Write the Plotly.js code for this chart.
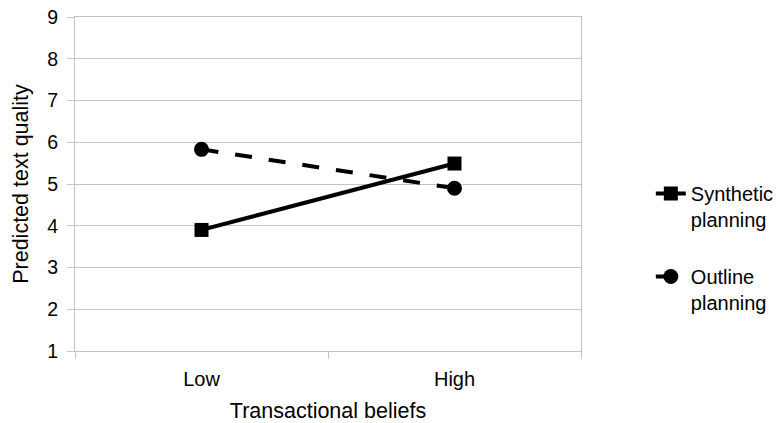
<!DOCTYPE html>
<html>
<head>
<meta charset="utf-8">
<script src="https://cdn.plot.ly/plotly-3.0.1.min.js"></script>
<style>html,body{margin:0;padding:0;background:#fff;}#chart{width:779px;height:423px;}</style>
</head>
<body>
<div id="chart"></div>
<script>
const categories = ['Low', 'High'];
const synthetic = [3.90, 5.49];
const outline = [5.83, 4.90];
const yTicks = [1, 2, 3, 4, 5, 6, 7, 8, 9];
const seriesNames = ['Synthetic<br>planning', 'Outline<br>planning'];

const font = 'Liberation Sans, Arial, sans-serif';
const grid = '#c4c4c4';

const traces = [
  {
    x: categories, y: synthetic, name: seriesNames[0], legendgroup: 'a', type: 'scatter', mode: 'lines+markers',
    line: {color: '#000', width: 4},
    marker: {symbol: 'square', size: 14, color: '#000'}
  },
  {
    x: categories, y: outline, name: seriesNames[1], legendgroup: 'b', type: 'scatter', mode: 'lines+markers',
    line: {color: '#000', width: 4, dash: '17px,17px'},
    marker: {symbol: 'circle', size: 15, color: '#000'}
  }
];

const layout = {
  width: 779, height: 423,
  margin: {l: 75, r: 198, t: 17, b: 72, autoexpand: false},
  paper_bgcolor: '#fff', plot_bgcolor: '#fff',
  font: {family: font, color: '#000', size: 20},
  showlegend: true,
  legend: {
    x: 1.138, xanchor: 'left', y: 0.53, yanchor: 'top',
    font: {family: font, size: 20, color: '#000'},
    valign: 'top', tracegroupgap: 28, bgcolor: 'rgba(0,0,0,0)'
  },
  xaxis: {
    type: 'category', categoryorder: 'array', categoryarray: categories,
    range: [-0.5, 1.5], tickson: 'boundaries',
    ticks: 'outside', ticklen: 7, tickcolor: grid, tickwidth: 1,
    showline: true, linecolor: grid, linewidth: 1, mirror: true,
    showgrid: false, zeroline: false,
    tickfont: {family: font, size: 20, color: '#000'},
    ticklabelstandoff: 10,
    title: {text: 'Transactional beliefs', font: {family: font, size: 21.5, color: '#000'}, standoff: 21}
  },
  yaxis: {
    range: [1, 9], tickvals: yTicks, ticktext: yTicks.map(String),
    ticks: 'outside', ticklen: 7, tickcolor: grid, tickwidth: 1,
    showline: true, linecolor: grid, linewidth: 1, mirror: true,
    showgrid: true, gridcolor: grid, gridwidth: 1, zeroline: false,
    tickfont: {family: font, size: 19.5, color: '#000'},
    ticklabelstandoff: 5,
    title: {text: 'Predicted text quality', font: {family: font, size: 21.5, color: '#000'}, standoff: 12}
  }
};

Plotly.newPlot('chart', traces, layout, {displayModeBar: false, staticPlot: true});
</script>
</body>
</html>
